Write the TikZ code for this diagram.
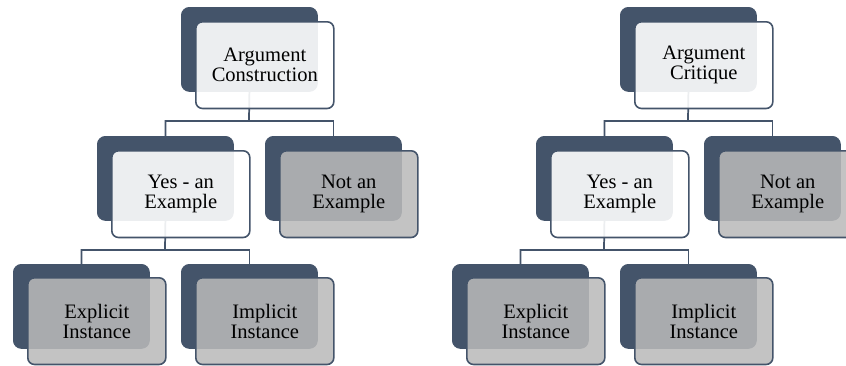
\documentclass[tikz,border=0pt]{standalone}
\usepackage{fontspec}
\setmainfont{Liberation Serif}
\newfontfamily\boxfont{Liberation Serif}
\definecolor{slate}{HTML}{44546A}
\definecolor{boxgray}{HTML}{BABABA}
\tikzset{
  back/.style={fill=slate, draw=slate, line width=0.6pt, rounded corners=6pt,
    minimum width=102pt, minimum height=63pt, anchor=north west, inner sep=0pt},
  frontbase/.style={draw=slate, line width=1.2pt, rounded corners=5pt,
    minimum width=103.5pt, minimum height=65pt, anchor=north west, inner sep=0pt,
    align=center, text=black, font=\boxfont\fontsize{15.4}{15}\selectfont},
  light/.style={frontbase, fill=white, fill opacity=0.9, text opacity=1},
  grayf/.style={frontbase, fill=boxgray, fill opacity=0.86, text opacity=1},
  link/.style={draw=slate, line width=1.3pt}
}
\begin{document}
\begin{tikzpicture}[x=0.75pt, y=-0.75pt]
\useasboundingbox (0,0) rectangle (846,365);
\clip (0,0) rectangle (846,365);
\fill[white] (0,0) rectangle (846,365);
% ---------- left tree: dark backs ----------
\node[back] (rLd) at (181,7) {};
\node[back] (yLd) at (97,136) {};
\node[back] (nLd) at (265,136) {};
\node[back] (eLd) at (13,264) {};
\node[back] (iLd) at (181,264) {};
% ---------- right tree: dark backs ----------
\node[back] (rRd) at (620,7) {};
\node[back] (yRd) at (536,136) {};
\node[back] (nRd) at (704,136) {};
\node[back] (eRd) at (452,264) {};
\node[back] (iRd) at (620,264) {};
% ---------- connectors ----------
\coordinate (jL1) at (249,121);
\coordinate (jL2) at (165,250);
\coordinate (jR1) at (688,121);
\coordinate (jR2) at (604,250);
\draw[link] (rLd.south) -- (jL1) -| (yLd.north);
\draw[link] (jL1) -| (nLd.north);
\draw[link] (yLd.south) -- (jL2) -| (eLd.north);
\draw[link] (jL2) -| (iLd.north);
\draw[link] (rRd.south) -- (jR1) -| (yRd.north);
\draw[link] (jR1) -| (nRd.north);
\draw[link] (yRd.south) -- (jR2) -| (eRd.north);
\draw[link] (jR2) -| (iRd.north);
% ---------- left tree: fronts ----------
\node[light] (rL) at (195,21) {Argument\\Construction};
\node[light] (yL) at (111,150) {Yes - an\\Example};
\node[grayf] (nL) at (279,150) {Not an\\Example};
\node[grayf] (eL) at (27,277) {Explicit\\Instance};
\node[grayf] (iL) at (195,277) {Implicit\\Instance};
% ---------- right tree: fronts ----------
\node[light] (rR) at (634,21) {Argument\\Critique};
\node[light] (yR) at (550,150) {Yes - an\\Example};
\node[grayf] (nR) at (718,150) {Not an\\Example};
\node[grayf] (eR) at (466,277) {Explicit\\Instance};
\node[grayf] (iR) at (634,277) {Implicit\\Instance};
\end{tikzpicture}
\end{document}
